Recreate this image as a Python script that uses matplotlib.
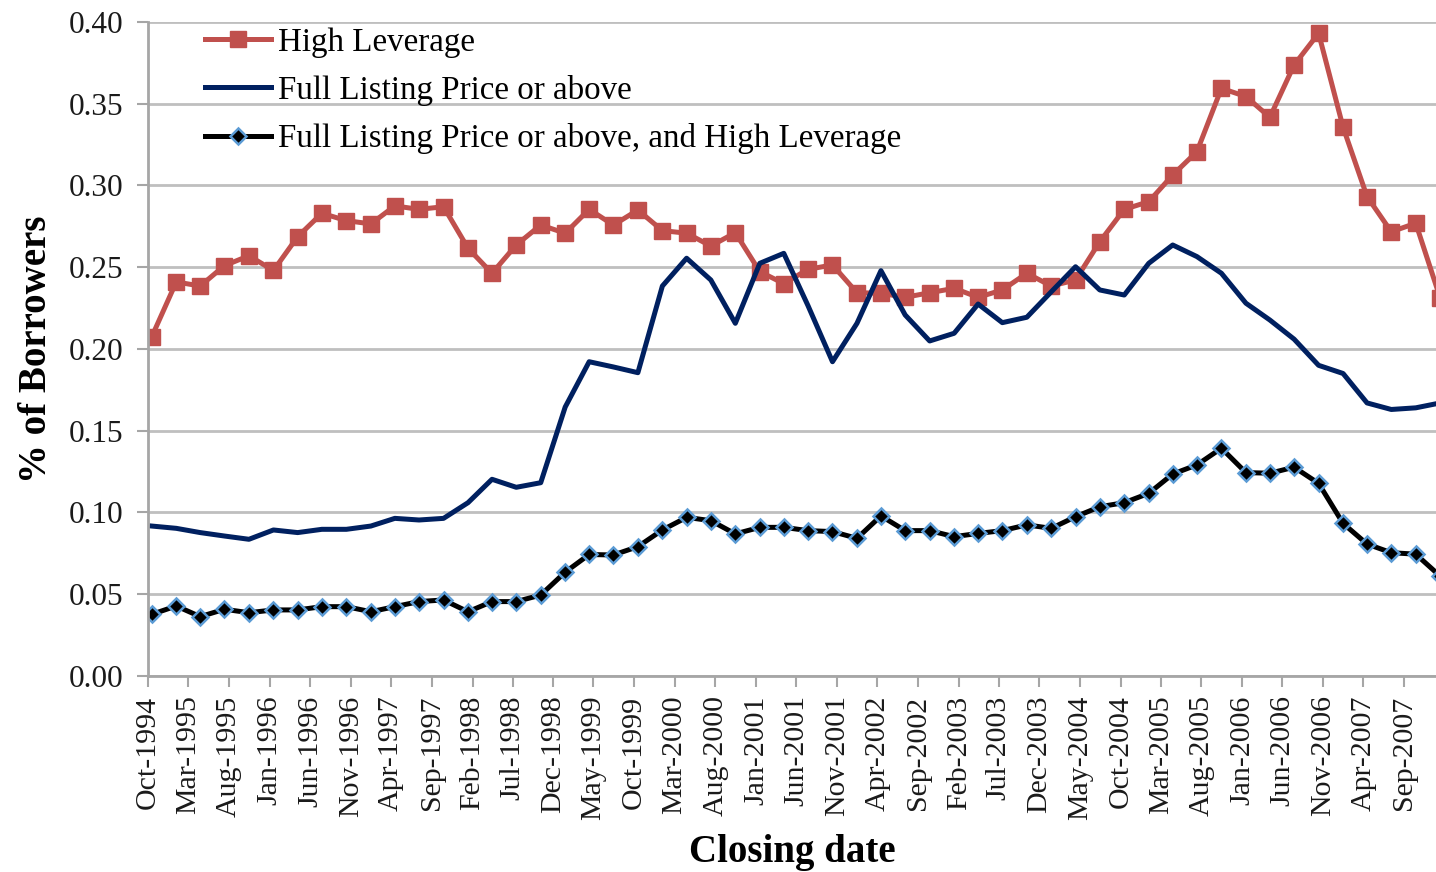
import pandas as pd
import matplotlib
matplotlib.use("Agg")
import matplotlib.pyplot as plt
import matplotlib.dates as mdates

plt.rcParams['font.family'] = ['Liberation Serif', 'DejaVu Serif']

# quarterly closing dates, Oct-1994 .. Jan-2008 (last one is cut by the frame)
dates = pd.date_range('1994-10-01', periods=54, freq='3MS') + pd.Timedelta(days=14)

high_lev = [0.2075, 0.241, 0.2385, 0.251, 0.257, 0.248, 0.2687, 0.283, 0.2785, 0.2765,
            0.2875, 0.2854, 0.287, 0.2616, 0.2463, 0.2636, 0.2758, 0.2708, 0.2854, 0.2758,
            0.2850, 0.2724, 0.2708, 0.2630, 0.2711, 0.2473, 0.240, 0.2487, 0.2514, 0.2344,
            0.2341, 0.2316, 0.2344, 0.2371, 0.2316, 0.2361, 0.2463, 0.2385, 0.2422, 0.2656,
            0.2854, 0.2901, 0.3064, 0.3207, 0.3594, 0.3544, 0.3417, 0.3737, 0.3931, 0.3356,
            0.2932, 0.2717, 0.2769, 0.231]

full_price = [0.0917, 0.0903, 0.0877, 0.0856, 0.0836, 0.0893, 0.0877, 0.0897, 0.0897, 0.0917,
              0.0964, 0.0954, 0.0964, 0.106, 0.1203, 0.1154, 0.1182, 0.1645, 0.1922, 0.189,
              0.1855, 0.2385, 0.2555, 0.2422, 0.2157, 0.2524, 0.2585, 0.2265, 0.1922, 0.2157,
              0.2479, 0.2208, 0.2049, 0.2096, 0.2275, 0.2161, 0.2194, 0.235, 0.2503, 0.2361,
              0.233, 0.2524, 0.2636, 0.2565, 0.2463, 0.228, 0.2177, 0.206, 0.190, 0.185,
              0.167, 0.163, 0.164, 0.167]

both = [0.0377, 0.0428, 0.0363, 0.0408, 0.0387, 0.0404, 0.0404, 0.0424, 0.0424, 0.0393,
        0.0424, 0.0455, 0.0465, 0.0393, 0.0455, 0.0455, 0.0495, 0.0635, 0.0743, 0.074,
        0.0791, 0.0893, 0.097, 0.095, 0.0869, 0.0909, 0.0909, 0.0889, 0.0883, 0.0842,
        0.0979, 0.0889, 0.0889, 0.0852, 0.0872, 0.0889, 0.0924, 0.0903, 0.0974, 0.1035,
        0.106, 0.1117, 0.1235, 0.1291, 0.1393, 0.1244, 0.124, 0.1277, 0.1178, 0.0933,
        0.0807, 0.0754, 0.0745, 0.061]

labels = ['High Leverage', 'Full Listing Price or above',
          'Full Listing Price or above, and High Leverage']

tick_dates = pd.date_range('1994-10-01', '2007-12-01', freq='5MS')

fig = plt.figure(figsize=(14.36, 8.72), dpi=100)
ax = fig.add_axes([0.1031, 0.2248, 0.8969, 0.75])

ax.plot(dates, high_lev, color='#C0504D', lw=3.6, marker='s', ms=11,
        mec='#C0504D', label=labels[0])
ax.plot(dates, full_price, color='#002060', lw=3.6, label=labels[1])
ax.plot(dates, both, color='black', lw=3.6, marker='D', ms=8.5,
        mfc='black', mec='#5B9BD5', mew=1.8, label=labels[2])

ax.set_ylim(0, 0.40)
ax.set_yticks([0, 0.05, 0.10, 0.15, 0.20, 0.25, 0.30, 0.35, 0.40])
ax.yaxis.set_major_formatter(plt.FuncFormatter(lambda v, p: f'{v:.2f}'))
ax.set_xlim(pd.Timestamp('1994-10-01'), pd.Timestamp('2007-12-30'))
ax.set_xticks(tick_dates)
ax.xaxis.set_major_formatter(mdates.DateFormatter('%b-%Y'))
plt.setp(ax.get_xticklabels(), rotation=90)

ax.grid(axis='y', color='#BFBFBF', lw=2)
ax.set_axisbelow(True)
for s in ['top', 'right']:
    ax.spines[s].set_visible(False)
ax.spines['left'].set_color('#A6A6A6')
ax.spines['bottom'].set_color('#A6A6A6')
ax.spines['left'].set_linewidth(2)
ax.spines['bottom'].set_linewidth(2)
ax.tick_params(axis='both', colors='#A6A6A6', width=1.5, length=8, labelsize=22.5,
               labelcolor='#1a1a1a')
ax.tick_params(axis='y', pad=10)
ax.tick_params(axis='x', pad=6, labelsize=21.5)

ax.set_ylabel('% of Borrowers', fontsize=28, fontweight='bold', labelpad=10)
ax.set_xlabel('Closing date', fontsize=28, fontweight='bold', labelpad=10)

ax.legend(loc='upper left', bbox_to_anchor=(0.0443, 0.992), frameon=False,
          fontsize=23.8, handlelength=2.0, handletextpad=0.22, labelspacing=0.52,
          borderpad=0, borderaxespad=0)

fig.savefig('out.png', dpi=100)
